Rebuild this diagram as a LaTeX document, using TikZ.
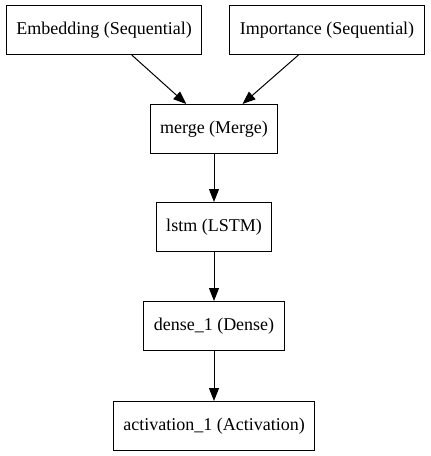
\documentclass[tikz,border=0pt]{standalone}
\usepackage{fontspec}
\setmainfont{Liberation Serif}
\usetikzlibrary{arrows.meta}

\tikzset{
	layer/.style={shape=rectangle, draw=black, line width=1pt, minimum height=49pt, inner xsep=10pt, font=\fontsize{18}{20}\selectfont},
	flow/.style={-{Triangle[length=13pt,width=10pt]}, line width=1pt}
}

\begin{document}
\begin{tikzpicture}[x=1pt, y=-1pt]
	
	\useasboundingbox (0, 0) rectangle (431, 456);
	
	\node[layer] (embedding)  at (104, 30)  {Embedding (Sequential)};
	\node[layer] (importance) at (327, 30)  {Importance (Sequential)};
	\node[layer] (merge)      at (214, 129) {merge (Merge)};
	\node[layer] (lstm)       at (214, 227) {lstm (LSTM)};
	\node[layer] (dense)      at (214, 326) {dense\_1 (Dense)};
	\node[layer] (activation) at (214, 426) {activation\_1 (Activation)};
	
	\path[flow] (embedding) edge (merge);
	\path[flow] (importance) edge (merge);
	\path[flow] (merge) edge (lstm);
	\path[flow] (lstm) edge (dense);
	\path[flow] (dense) edge (activation);
	
\end{tikzpicture}
\end{document}
